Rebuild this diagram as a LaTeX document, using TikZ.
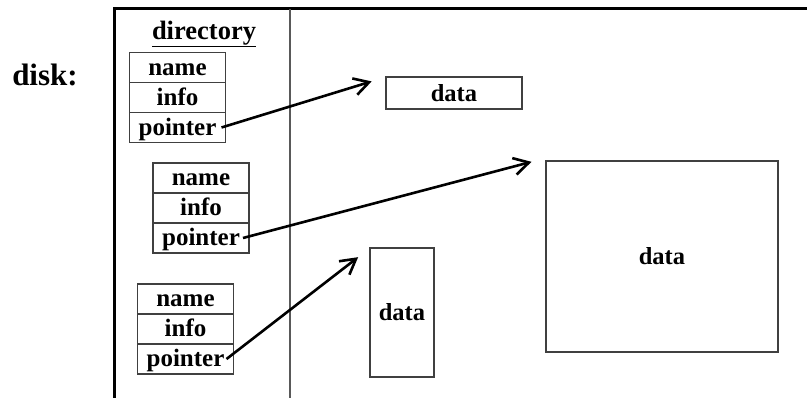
\documentclass[tikz,border=0pt]{standalone}
\usepackage{fontspec}
\setmainfont{Liberation Serif}
\usepackage{tikz}
\usetikzlibrary{positioning, arrows.meta}
\tikzset{
    cell/.style={draw=black!75, line width=1.5bp, minimum width=96bp, minimum height=30bp,
      inner sep=0pt, outer sep=0pt, text height=19bp, text depth=4bp,
      font=\fontsize{25bp}{27bp}\selectfont\bfseries},
    datablock/.style={draw=black!75, line width=1.5bp, inner sep=0pt, outer sep=0pt,
      font=\fontsize{24.5bp}{26bp}\selectfont\bfseries},
    pointsto/.style={-{Straight Barb[length=15bp, width=17bp]}, line width=2.6bp, shorten >=15bp},
}

\begin{document}
\begin{tikzpicture}[x=1bp, y=1bp]
    \useasboundingbox (0,0) rectangle (807,398);

    % the disk and its directory part
    \draw[line width=3bp] (807,389) -| (114,0);
    \draw[line width=2bp, black!65] (290,389) -- (290,0);

    \node[anchor=base, font=\fontsize{31bp}{33bp}\selectfont\bfseries] (disk) at (45,313) {disk:};
    \node[anchor=base, font=\fontsize{26.5bp}{28bp}\selectfont\bfseries] (dir) at (204,359) {\underline{directory}};

    \node[cell] (n1) at (177.5,330.5) {name};
    \node[cell, below=0pt of n1] (i1) {info};
    \node[cell, below=0pt of i1] (p1) {pointer};

    \node[cell] (n2) at (201,220) {name};
    \node[cell, below=0pt of n2] (i2) {info};
    \node[cell, below=0pt of i2] (p2) {pointer};

    \node[cell] (n3) at (185.5,99) {name};
    \node[cell, below=0pt of n3] (i3) {info};
    \node[cell, below=0pt of i3] (p3) {pointer};

    % data blocks
    \node[datablock, minimum width=136bp, minimum height=32bp] (d1) at (454,305) {data};
    \node[datablock, minimum width=232bp, minimum height=191bp] (d2) at (662,141.5) {data};
    \node[datablock, minimum width=64bp, minimum height=129bp] (d3) at (402,85.5) {data};

    \draw[pointsto] ([xshift=-4bp]p1.east) -- (d1.north west);
    \draw[pointsto] ([xshift=-6bp]p2.east) -- ([yshift=3bp]d2.north west);
    \draw[pointsto] ([xshift=-7bp]p3.east) -- (d3.north west);
\end{tikzpicture}
\end{document}
